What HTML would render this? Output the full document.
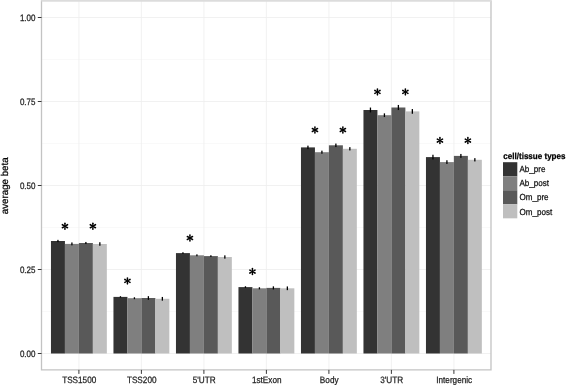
<!DOCTYPE html>
<html><head><meta charset="utf-8"><style>
html,body{margin:0;padding:0;background:#fff;}
body{width:567px;height:385px;overflow:hidden;}
svg{display:block;filter:blur(0.35px);will-change:transform;text-rendering:geometricPrecision;font-family:"Liberation Sans",sans-serif;}
</style></head><body>
<svg width="567" height="385" viewBox="0 0 567 385">
<rect x="0" y="0" width="567" height="385" fill="#fff"/>
<line x1="41.5" x2="491.0" y1="311.5" y2="311.5" stroke="#f8f8f8" stroke-width="0.8"/>
<line x1="41.5" x2="491.0" y1="227.5" y2="227.5" stroke="#f8f8f8" stroke-width="0.8"/>
<line x1="41.5" x2="491.0" y1="143.5" y2="143.5" stroke="#f8f8f8" stroke-width="0.8"/>
<line x1="41.5" x2="491.0" y1="59.5" y2="59.5" stroke="#f8f8f8" stroke-width="0.8"/>
<line x1="41.5" x2="491.0" y1="353.5" y2="353.5" stroke="#eeeeee" stroke-width="0.8"/>
<line x1="41.5" x2="491.0" y1="269.5" y2="269.5" stroke="#eeeeee" stroke-width="0.8"/>
<line x1="41.5" x2="491.0" y1="185.5" y2="185.5" stroke="#eeeeee" stroke-width="0.8"/>
<line x1="41.5" x2="491.0" y1="101.5" y2="101.5" stroke="#eeeeee" stroke-width="0.8"/>
<line x1="41.5" x2="491.0" y1="17.5" y2="17.5" stroke="#eeeeee" stroke-width="0.8"/>
<line x1="78.9" x2="78.9" y1="0.3" y2="369.9" stroke="#eeeeee" stroke-width="0.8"/>
<line x1="141.4" x2="141.4" y1="0.3" y2="369.9" stroke="#eeeeee" stroke-width="0.8"/>
<line x1="203.9" x2="203.9" y1="0.3" y2="369.9" stroke="#eeeeee" stroke-width="0.8"/>
<line x1="266.4" x2="266.4" y1="0.3" y2="369.9" stroke="#eeeeee" stroke-width="0.8"/>
<line x1="328.9" x2="328.9" y1="0.3" y2="369.9" stroke="#eeeeee" stroke-width="0.8"/>
<line x1="391.4" x2="391.4" y1="0.3" y2="369.9" stroke="#eeeeee" stroke-width="0.8"/>
<line x1="453.9" x2="453.9" y1="0.3" y2="369.9" stroke="#eeeeee" stroke-width="0.8"/>
<rect x="50.960" y="241" width="13.970" height="112.500" fill="#333333"/>
<rect x="64.930" y="243.9" width="13.970" height="109.600" fill="#7f7f7f"/>
<rect x="78.900" y="243" width="13.970" height="110.500" fill="#595959"/>
<rect x="92.870" y="244" width="13.970" height="109.500" fill="#bfbfbf"/>
<rect x="113.460" y="296.9" width="13.970" height="56.600" fill="#333333"/>
<rect x="127.430" y="298.2" width="13.970" height="55.300" fill="#7f7f7f"/>
<rect x="141.400" y="298.0" width="13.970" height="55.500" fill="#595959"/>
<rect x="155.370" y="298.8" width="13.970" height="54.700" fill="#bfbfbf"/>
<rect x="175.960" y="253.1" width="13.970" height="100.400" fill="#333333"/>
<rect x="189.930" y="255.3" width="13.970" height="98.200" fill="#7f7f7f"/>
<rect x="203.900" y="256.1" width="13.970" height="97.400" fill="#595959"/>
<rect x="217.870" y="257.0" width="13.970" height="96.500" fill="#bfbfbf"/>
<rect x="238.460" y="287.1" width="13.970" height="66.400" fill="#333333"/>
<rect x="252.430" y="288.3" width="13.970" height="65.200" fill="#7f7f7f"/>
<rect x="266.400" y="287.9" width="13.970" height="65.600" fill="#595959"/>
<rect x="280.370" y="288.3" width="13.970" height="65.200" fill="#bfbfbf"/>
<rect x="300.960" y="147.4" width="13.970" height="206.100" fill="#333333"/>
<rect x="314.930" y="152.2" width="13.970" height="201.300" fill="#7f7f7f"/>
<rect x="328.900" y="145.3" width="13.970" height="208.200" fill="#595959"/>
<rect x="342.870" y="148.8" width="13.970" height="204.700" fill="#bfbfbf"/>
<rect x="363.460" y="110.0" width="13.970" height="243.500" fill="#333333"/>
<rect x="377.430" y="115.2" width="13.970" height="238.300" fill="#7f7f7f"/>
<rect x="391.400" y="107.5" width="13.970" height="246.000" fill="#595959"/>
<rect x="405.370" y="111.4" width="13.970" height="242.100" fill="#bfbfbf"/>
<rect x="425.960" y="157.1" width="13.970" height="196.400" fill="#333333"/>
<rect x="439.930" y="162.1" width="13.970" height="191.400" fill="#7f7f7f"/>
<rect x="453.900" y="155.9" width="13.970" height="197.600" fill="#595959"/>
<rect x="467.870" y="159.8" width="13.970" height="193.700" fill="#bfbfbf"/>
<rect x="57.295" y="239.850" width="1.3" height="2.300" fill="#000"/>
<rect x="71.265" y="242.450" width="1.3" height="2.900" fill="#000"/>
<rect x="85.235" y="241.950" width="1.3" height="2.100" fill="#000"/>
<rect x="99.205" y="242.250" width="1.3" height="3.500" fill="#000"/>
<rect x="119.795" y="296.200" width="1.3" height="1.400" fill="#000"/>
<rect x="133.765" y="297.250" width="1.3" height="1.900" fill="#000"/>
<rect x="147.735" y="296.150" width="1.3" height="3.700" fill="#000"/>
<rect x="161.705" y="296.950" width="1.3" height="3.700" fill="#000"/>
<rect x="182.295" y="252.250" width="1.3" height="1.700" fill="#000"/>
<rect x="196.265" y="254.350" width="1.3" height="1.900" fill="#000"/>
<rect x="210.235" y="255.250" width="1.3" height="1.700" fill="#000"/>
<rect x="224.205" y="255.350" width="1.3" height="3.300" fill="#000"/>
<rect x="244.795" y="286.250" width="1.3" height="1.700" fill="#000"/>
<rect x="258.765" y="287.250" width="1.3" height="2.100" fill="#000"/>
<rect x="272.735" y="286.350" width="1.3" height="3.100" fill="#000"/>
<rect x="286.705" y="286.450" width="1.3" height="3.700" fill="#000"/>
<rect x="307.295" y="145.650" width="1.3" height="3.500" fill="#000"/>
<rect x="321.265" y="150.650" width="1.3" height="3.100" fill="#000"/>
<rect x="335.235" y="143.550" width="1.3" height="3.500" fill="#000"/>
<rect x="349.205" y="147.150" width="1.3" height="3.300" fill="#000"/>
<rect x="369.795" y="107.550" width="1.3" height="4.900" fill="#000"/>
<rect x="383.765" y="113.350" width="1.3" height="3.700" fill="#000"/>
<rect x="397.735" y="104.950" width="1.3" height="5.100" fill="#000"/>
<rect x="411.705" y="109.050" width="1.3" height="4.700" fill="#000"/>
<rect x="432.295" y="154.750" width="1.3" height="4.700" fill="#000"/>
<rect x="446.265" y="160.250" width="1.3" height="3.700" fill="#000"/>
<rect x="460.235" y="153.950" width="1.3" height="3.900" fill="#000"/>
<rect x="474.205" y="158.150" width="1.3" height="3.300" fill="#000"/>
<g transform="translate(64.93,226.20)" fill="#000"><path transform="rotate(0)" d="M-0.5 0 L-0.82 -2.93 A0.82 0.82 0 0 1 0.82 -2.93 L0.5 0 Z"/><path transform="rotate(60)" d="M-0.5 0 L-0.82 -2.93 A0.82 0.82 0 0 1 0.82 -2.93 L0.5 0 Z"/><path transform="rotate(120)" d="M-0.5 0 L-0.82 -2.93 A0.82 0.82 0 0 1 0.82 -2.93 L0.5 0 Z"/><path transform="rotate(180)" d="M-0.5 0 L-0.82 -2.93 A0.82 0.82 0 0 1 0.82 -2.93 L0.5 0 Z"/><path transform="rotate(240)" d="M-0.5 0 L-0.82 -2.93 A0.82 0.82 0 0 1 0.82 -2.93 L0.5 0 Z"/><path transform="rotate(300)" d="M-0.5 0 L-0.82 -2.93 A0.82 0.82 0 0 1 0.82 -2.93 L0.5 0 Z"/><circle r="0.75"/></g>
<g transform="translate(92.87,226.20)" fill="#000"><path transform="rotate(0)" d="M-0.5 0 L-0.82 -2.93 A0.82 0.82 0 0 1 0.82 -2.93 L0.5 0 Z"/><path transform="rotate(60)" d="M-0.5 0 L-0.82 -2.93 A0.82 0.82 0 0 1 0.82 -2.93 L0.5 0 Z"/><path transform="rotate(120)" d="M-0.5 0 L-0.82 -2.93 A0.82 0.82 0 0 1 0.82 -2.93 L0.5 0 Z"/><path transform="rotate(180)" d="M-0.5 0 L-0.82 -2.93 A0.82 0.82 0 0 1 0.82 -2.93 L0.5 0 Z"/><path transform="rotate(240)" d="M-0.5 0 L-0.82 -2.93 A0.82 0.82 0 0 1 0.82 -2.93 L0.5 0 Z"/><path transform="rotate(300)" d="M-0.5 0 L-0.82 -2.93 A0.82 0.82 0 0 1 0.82 -2.93 L0.5 0 Z"/><circle r="0.75"/></g>
<g transform="translate(127.43,280.90)" fill="#000"><path transform="rotate(0)" d="M-0.5 0 L-0.82 -2.93 A0.82 0.82 0 0 1 0.82 -2.93 L0.5 0 Z"/><path transform="rotate(60)" d="M-0.5 0 L-0.82 -2.93 A0.82 0.82 0 0 1 0.82 -2.93 L0.5 0 Z"/><path transform="rotate(120)" d="M-0.5 0 L-0.82 -2.93 A0.82 0.82 0 0 1 0.82 -2.93 L0.5 0 Z"/><path transform="rotate(180)" d="M-0.5 0 L-0.82 -2.93 A0.82 0.82 0 0 1 0.82 -2.93 L0.5 0 Z"/><path transform="rotate(240)" d="M-0.5 0 L-0.82 -2.93 A0.82 0.82 0 0 1 0.82 -2.93 L0.5 0 Z"/><path transform="rotate(300)" d="M-0.5 0 L-0.82 -2.93 A0.82 0.82 0 0 1 0.82 -2.93 L0.5 0 Z"/><circle r="0.75"/></g>
<g transform="translate(189.93,238.00)" fill="#000"><path transform="rotate(0)" d="M-0.5 0 L-0.82 -2.93 A0.82 0.82 0 0 1 0.82 -2.93 L0.5 0 Z"/><path transform="rotate(60)" d="M-0.5 0 L-0.82 -2.93 A0.82 0.82 0 0 1 0.82 -2.93 L0.5 0 Z"/><path transform="rotate(120)" d="M-0.5 0 L-0.82 -2.93 A0.82 0.82 0 0 1 0.82 -2.93 L0.5 0 Z"/><path transform="rotate(180)" d="M-0.5 0 L-0.82 -2.93 A0.82 0.82 0 0 1 0.82 -2.93 L0.5 0 Z"/><path transform="rotate(240)" d="M-0.5 0 L-0.82 -2.93 A0.82 0.82 0 0 1 0.82 -2.93 L0.5 0 Z"/><path transform="rotate(300)" d="M-0.5 0 L-0.82 -2.93 A0.82 0.82 0 0 1 0.82 -2.93 L0.5 0 Z"/><circle r="0.75"/></g>
<g transform="translate(252.43,271.60)" fill="#000"><path transform="rotate(0)" d="M-0.5 0 L-0.82 -2.93 A0.82 0.82 0 0 1 0.82 -2.93 L0.5 0 Z"/><path transform="rotate(60)" d="M-0.5 0 L-0.82 -2.93 A0.82 0.82 0 0 1 0.82 -2.93 L0.5 0 Z"/><path transform="rotate(120)" d="M-0.5 0 L-0.82 -2.93 A0.82 0.82 0 0 1 0.82 -2.93 L0.5 0 Z"/><path transform="rotate(180)" d="M-0.5 0 L-0.82 -2.93 A0.82 0.82 0 0 1 0.82 -2.93 L0.5 0 Z"/><path transform="rotate(240)" d="M-0.5 0 L-0.82 -2.93 A0.82 0.82 0 0 1 0.82 -2.93 L0.5 0 Z"/><path transform="rotate(300)" d="M-0.5 0 L-0.82 -2.93 A0.82 0.82 0 0 1 0.82 -2.93 L0.5 0 Z"/><circle r="0.75"/></g>
<g transform="translate(314.93,130.00)" fill="#000"><path transform="rotate(0)" d="M-0.5 0 L-0.82 -2.93 A0.82 0.82 0 0 1 0.82 -2.93 L0.5 0 Z"/><path transform="rotate(60)" d="M-0.5 0 L-0.82 -2.93 A0.82 0.82 0 0 1 0.82 -2.93 L0.5 0 Z"/><path transform="rotate(120)" d="M-0.5 0 L-0.82 -2.93 A0.82 0.82 0 0 1 0.82 -2.93 L0.5 0 Z"/><path transform="rotate(180)" d="M-0.5 0 L-0.82 -2.93 A0.82 0.82 0 0 1 0.82 -2.93 L0.5 0 Z"/><path transform="rotate(240)" d="M-0.5 0 L-0.82 -2.93 A0.82 0.82 0 0 1 0.82 -2.93 L0.5 0 Z"/><path transform="rotate(300)" d="M-0.5 0 L-0.82 -2.93 A0.82 0.82 0 0 1 0.82 -2.93 L0.5 0 Z"/><circle r="0.75"/></g>
<g transform="translate(342.87,130.00)" fill="#000"><path transform="rotate(0)" d="M-0.5 0 L-0.82 -2.93 A0.82 0.82 0 0 1 0.82 -2.93 L0.5 0 Z"/><path transform="rotate(60)" d="M-0.5 0 L-0.82 -2.93 A0.82 0.82 0 0 1 0.82 -2.93 L0.5 0 Z"/><path transform="rotate(120)" d="M-0.5 0 L-0.82 -2.93 A0.82 0.82 0 0 1 0.82 -2.93 L0.5 0 Z"/><path transform="rotate(180)" d="M-0.5 0 L-0.82 -2.93 A0.82 0.82 0 0 1 0.82 -2.93 L0.5 0 Z"/><path transform="rotate(240)" d="M-0.5 0 L-0.82 -2.93 A0.82 0.82 0 0 1 0.82 -2.93 L0.5 0 Z"/><path transform="rotate(300)" d="M-0.5 0 L-0.82 -2.93 A0.82 0.82 0 0 1 0.82 -2.93 L0.5 0 Z"/><circle r="0.75"/></g>
<g transform="translate(377.43,91.90)" fill="#000"><path transform="rotate(0)" d="M-0.5 0 L-0.82 -2.93 A0.82 0.82 0 0 1 0.82 -2.93 L0.5 0 Z"/><path transform="rotate(60)" d="M-0.5 0 L-0.82 -2.93 A0.82 0.82 0 0 1 0.82 -2.93 L0.5 0 Z"/><path transform="rotate(120)" d="M-0.5 0 L-0.82 -2.93 A0.82 0.82 0 0 1 0.82 -2.93 L0.5 0 Z"/><path transform="rotate(180)" d="M-0.5 0 L-0.82 -2.93 A0.82 0.82 0 0 1 0.82 -2.93 L0.5 0 Z"/><path transform="rotate(240)" d="M-0.5 0 L-0.82 -2.93 A0.82 0.82 0 0 1 0.82 -2.93 L0.5 0 Z"/><path transform="rotate(300)" d="M-0.5 0 L-0.82 -2.93 A0.82 0.82 0 0 1 0.82 -2.93 L0.5 0 Z"/><circle r="0.75"/></g>
<g transform="translate(405.37,91.90)" fill="#000"><path transform="rotate(0)" d="M-0.5 0 L-0.82 -2.93 A0.82 0.82 0 0 1 0.82 -2.93 L0.5 0 Z"/><path transform="rotate(60)" d="M-0.5 0 L-0.82 -2.93 A0.82 0.82 0 0 1 0.82 -2.93 L0.5 0 Z"/><path transform="rotate(120)" d="M-0.5 0 L-0.82 -2.93 A0.82 0.82 0 0 1 0.82 -2.93 L0.5 0 Z"/><path transform="rotate(180)" d="M-0.5 0 L-0.82 -2.93 A0.82 0.82 0 0 1 0.82 -2.93 L0.5 0 Z"/><path transform="rotate(240)" d="M-0.5 0 L-0.82 -2.93 A0.82 0.82 0 0 1 0.82 -2.93 L0.5 0 Z"/><path transform="rotate(300)" d="M-0.5 0 L-0.82 -2.93 A0.82 0.82 0 0 1 0.82 -2.93 L0.5 0 Z"/><circle r="0.75"/></g>
<g transform="translate(439.93,140.60)" fill="#000"><path transform="rotate(0)" d="M-0.5 0 L-0.82 -2.93 A0.82 0.82 0 0 1 0.82 -2.93 L0.5 0 Z"/><path transform="rotate(60)" d="M-0.5 0 L-0.82 -2.93 A0.82 0.82 0 0 1 0.82 -2.93 L0.5 0 Z"/><path transform="rotate(120)" d="M-0.5 0 L-0.82 -2.93 A0.82 0.82 0 0 1 0.82 -2.93 L0.5 0 Z"/><path transform="rotate(180)" d="M-0.5 0 L-0.82 -2.93 A0.82 0.82 0 0 1 0.82 -2.93 L0.5 0 Z"/><path transform="rotate(240)" d="M-0.5 0 L-0.82 -2.93 A0.82 0.82 0 0 1 0.82 -2.93 L0.5 0 Z"/><path transform="rotate(300)" d="M-0.5 0 L-0.82 -2.93 A0.82 0.82 0 0 1 0.82 -2.93 L0.5 0 Z"/><circle r="0.75"/></g>
<g transform="translate(467.87,140.60)" fill="#000"><path transform="rotate(0)" d="M-0.5 0 L-0.82 -2.93 A0.82 0.82 0 0 1 0.82 -2.93 L0.5 0 Z"/><path transform="rotate(60)" d="M-0.5 0 L-0.82 -2.93 A0.82 0.82 0 0 1 0.82 -2.93 L0.5 0 Z"/><path transform="rotate(120)" d="M-0.5 0 L-0.82 -2.93 A0.82 0.82 0 0 1 0.82 -2.93 L0.5 0 Z"/><path transform="rotate(180)" d="M-0.5 0 L-0.82 -2.93 A0.82 0.82 0 0 1 0.82 -2.93 L0.5 0 Z"/><path transform="rotate(240)" d="M-0.5 0 L-0.82 -2.93 A0.82 0.82 0 0 1 0.82 -2.93 L0.5 0 Z"/><path transform="rotate(300)" d="M-0.5 0 L-0.82 -2.93 A0.82 0.82 0 0 1 0.82 -2.93 L0.5 0 Z"/><circle r="0.75"/></g>
<path d="M41.5 0.3V369.9H491.0V0.3" fill="none" stroke="#c3c3c3" stroke-width="1.3"/>
<line x1="41.5" x2="491.0" y1="0.9" y2="0.9" stroke="#dcdcdc" stroke-width="1.8"/>
<line x1="37.8" x2="41.5" y1="353.5" y2="353.5" stroke="#222" stroke-width="0.9"/>
<text transform="translate(35.45,356.90) scale(0.86,1)" text-anchor="end" font-size="9.3" fill="#222" stroke="#222" stroke-width="0.25">0.00</text>
<line x1="37.8" x2="41.5" y1="269.5" y2="269.5" stroke="#222" stroke-width="0.9"/>
<text transform="translate(35.45,272.90) scale(0.86,1)" text-anchor="end" font-size="9.3" fill="#222" stroke="#222" stroke-width="0.25">0.25</text>
<line x1="37.8" x2="41.5" y1="185.5" y2="185.5" stroke="#222" stroke-width="0.9"/>
<text transform="translate(35.45,188.90) scale(0.86,1)" text-anchor="end" font-size="9.3" fill="#222" stroke="#222" stroke-width="0.25">0.50</text>
<line x1="37.8" x2="41.5" y1="101.5" y2="101.5" stroke="#222" stroke-width="0.9"/>
<text transform="translate(35.45,104.90) scale(0.86,1)" text-anchor="end" font-size="9.3" fill="#222" stroke="#222" stroke-width="0.25">0.75</text>
<line x1="37.8" x2="41.5" y1="17.5" y2="17.5" stroke="#222" stroke-width="0.9"/>
<text transform="translate(35.45,20.90) scale(0.86,1)" text-anchor="end" font-size="9.3" fill="#222" stroke="#222" stroke-width="0.25">1.00</text>
<line x1="78.9" x2="78.9" y1="369.9" y2="373.9" stroke="#222" stroke-width="0.9"/>
<text transform="translate(79.20,383.00) scale(0.885,1)" text-anchor="middle" font-size="9.25" fill="#222" stroke="#222" stroke-width="0.25">TSS1500</text>
<line x1="141.4" x2="141.4" y1="369.9" y2="373.9" stroke="#222" stroke-width="0.9"/>
<text transform="translate(141.70,383.00) scale(0.885,1)" text-anchor="middle" font-size="9.25" fill="#222" stroke="#222" stroke-width="0.25">TSS200</text>
<line x1="203.9" x2="203.9" y1="369.9" y2="373.9" stroke="#222" stroke-width="0.9"/>
<text transform="translate(204.20,383.00) scale(0.885,1)" text-anchor="middle" font-size="9.25" fill="#222" stroke="#222" stroke-width="0.25">5'UTR</text>
<line x1="266.4" x2="266.4" y1="369.9" y2="373.9" stroke="#222" stroke-width="0.9"/>
<text transform="translate(266.70,383.00) scale(0.885,1)" text-anchor="middle" font-size="9.25" fill="#222" stroke="#222" stroke-width="0.25">1stExon</text>
<line x1="328.9" x2="328.9" y1="369.9" y2="373.9" stroke="#222" stroke-width="0.9"/>
<text transform="translate(329.20,383.00) scale(0.885,1)" text-anchor="middle" font-size="9.25" fill="#222" stroke="#222" stroke-width="0.25">Body</text>
<line x1="391.4" x2="391.4" y1="369.9" y2="373.9" stroke="#222" stroke-width="0.9"/>
<text transform="translate(391.70,383.00) scale(0.885,1)" text-anchor="middle" font-size="9.25" fill="#222" stroke="#222" stroke-width="0.25">3'UTR</text>
<line x1="453.9" x2="453.9" y1="369.9" y2="373.9" stroke="#222" stroke-width="0.9"/>
<text transform="translate(454.20,383.00) scale(0.885,1)" text-anchor="middle" font-size="9.25" fill="#222" stroke="#222" stroke-width="0.25">Intergenic</text>
<text transform="translate(7.90,185.80) rotate(-90) scale(0.985,1)" text-anchor="middle" font-size="9.9" fill="#000" stroke="#000" stroke-width="0.25">average beta</text>
<text transform="translate(503.30,159.00) scale(0.92,1)" text-anchor="start" font-size="8.75" fill="#000" stroke="#000" stroke-width="0.25" font-weight="bold">cell/tissue types</text>
<rect x="503" y="162.20" width="14.3" height="14.03" fill="#333333"/>
<text transform="translate(519.50,171.90) scale(0.915,1)" text-anchor="start" font-size="8.8" fill="#111" stroke="#111" stroke-width="0.25">Ab_pre</text>
<rect x="503" y="176.23" width="14.3" height="14.03" fill="#7f7f7f"/>
<text transform="translate(519.50,186.17) scale(0.915,1)" text-anchor="start" font-size="8.8" fill="#111" stroke="#111" stroke-width="0.25">Ab_post</text>
<rect x="503" y="190.26" width="14.3" height="14.03" fill="#595959"/>
<text transform="translate(519.50,200.44) scale(0.915,1)" text-anchor="start" font-size="8.8" fill="#111" stroke="#111" stroke-width="0.25">Om_pre</text>
<rect x="503" y="204.29" width="14.3" height="14.03" fill="#bfbfbf"/>
<text transform="translate(519.50,214.71) scale(0.915,1)" text-anchor="start" font-size="8.8" fill="#111" stroke="#111" stroke-width="0.25">Om_post</text>
</svg>
</body></html>
